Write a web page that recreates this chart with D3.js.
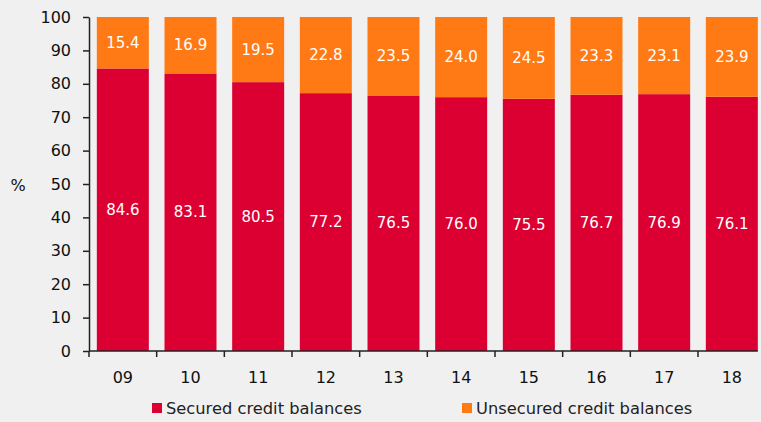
<!DOCTYPE html>
<html><head><meta charset="utf-8">
<script src="https://cdn.jsdelivr.net/npm/d3@7"></script>
<style>
html,body{margin:0;padding:0;background:#f0f0f0;}
svg{display:block;}
text{font-family:"DejaVu Sans",sans-serif;}
</style></head><body>
<script>
const categories = ["09","10","11","12","13","14","15","16","17","18"];
const secured = [84.6,83.1,80.5,77.2,76.5,76.0,75.5,76.7,76.9,76.1];
const unsecured = [15.4,16.9,19.5,22.8,23.5,24.0,24.5,23.3,23.1,23.9];
const yTicks = [0,10,20,30,40,50,60,70,80,90,100];
const seriesNames = ["Secured credit balances","Unsecured credit balances"];
const colors = ["#dc0032","#ff7a14"];

const W=761,H=422;
const svg=d3.select("body").append("svg").attr("width",W).attr("height",H);
svg.append("rect").attr("width",W).attr("height",H).attr("fill","#f0f0f0");

const stepW=(698-89)/9, barW=52;
const x=d3.scaleBand().domain(categories).range([89,89+stepW*10])
  .paddingInner(1-barW/stepW).paddingOuter((1-barW/stepW)/2);
const y=d3.scaleLinear().domain([0,100]).range([351,17]);
const gap=(x.step()-x.bandwidth())/2;

const stackData = categories.map((c,i)=>({c, s:secured[i], u:unsecured[i]}));
const g=svg.append("g");
g.selectAll("rect.sec").data(stackData).enter().append("rect")
 .attr("x",d=>x(d.c)).attr("width",x.bandwidth())
 .attr("y",d=>y(d.s)).attr("height",d=>y(0)-y(d.s)).attr("fill",colors[0]);
g.selectAll("rect.uns").data(stackData).enter().append("rect")
 .attr("x",d=>x(d.c)).attr("width",x.bandwidth())
 .attr("y",d=>y(d.s+d.u)).attr("height",d=>y(d.s)-y(d.s+d.u)).attr("fill",colors[1]);

g.selectAll("text.sl").data(stackData).enter().append("text")
 .attr("x",d=>x(d.c)+x.bandwidth()/2).attr("y",d=>y(d.s/2))
 .attr("text-anchor","middle").attr("dominant-baseline","central")
 .attr("fill","#fff").attr("font-size",15).text(d=>d.s.toFixed(1));
g.selectAll("text.ul").data(stackData).enter().append("text")
 .attr("x",d=>x(d.c)+x.bandwidth()/2).attr("y",d=>y(d.s+d.u/2))
 .attr("text-anchor","middle").attr("dominant-baseline","central")
 .attr("fill","#fff").attr("font-size",15).text(d=>d.u.toFixed(1));

const ya=svg.append("g").attr("transform","translate(89,0)")
 .call(d3.axisLeft(y).tickValues(yTicks).tickSize(6).tickPadding(12).tickSizeOuter(0));
ya.select(".domain").attr("stroke","#222").attr("stroke-width",1.5);
ya.selectAll(".tick line").attr("stroke","#222").attr("stroke-width",1.5);
ya.selectAll(".tick text").attr("font-size",16).attr("fill","#111").attr("font-family","DejaVu Sans");

const xa=svg.append("g");
xa.append("line").attr("x1",89).attr("x2",x(categories[categories.length-1])+x.bandwidth())
 .attr("y1",351).attr("y2",351).attr("stroke","#222").attr("stroke-width",1.5);
xa.selectAll("line.t").data(categories).enter().append("line")
 .attr("x1",d=>x(d)-gap).attr("x2",d=>x(d)-gap)
 .attr("y1",351).attr("y2",357).attr("stroke","#222").attr("stroke-width",1.5);
xa.selectAll("text").data(categories).enter().append("text")
 .attr("x",d=>x(d)+x.bandwidth()/2).attr("y",383).attr("text-anchor","middle")
 .attr("font-size",16).attr("fill","#111").text(d=>d);

svg.append("text").attr("x",18).attr("y",191).attr("text-anchor","middle")
 .attr("font-size",16).attr("fill","#111").text("%");

const legX=[152,462];
seriesNames.forEach((n,i)=>{
  svg.append("rect").attr("x",legX[i]).attr("y",403).attr("width",10).attr("height",10).attr("fill",colors[i]);
  svg.append("text").attr("x",legX[i]+14).attr("y",408).attr("dominant-baseline","central")
   .attr("font-size",16.3).attr("fill","#222").attr("font-family","Lato, 'DejaVu Sans', sans-serif").text(n);
});
</script>
</body></html>
